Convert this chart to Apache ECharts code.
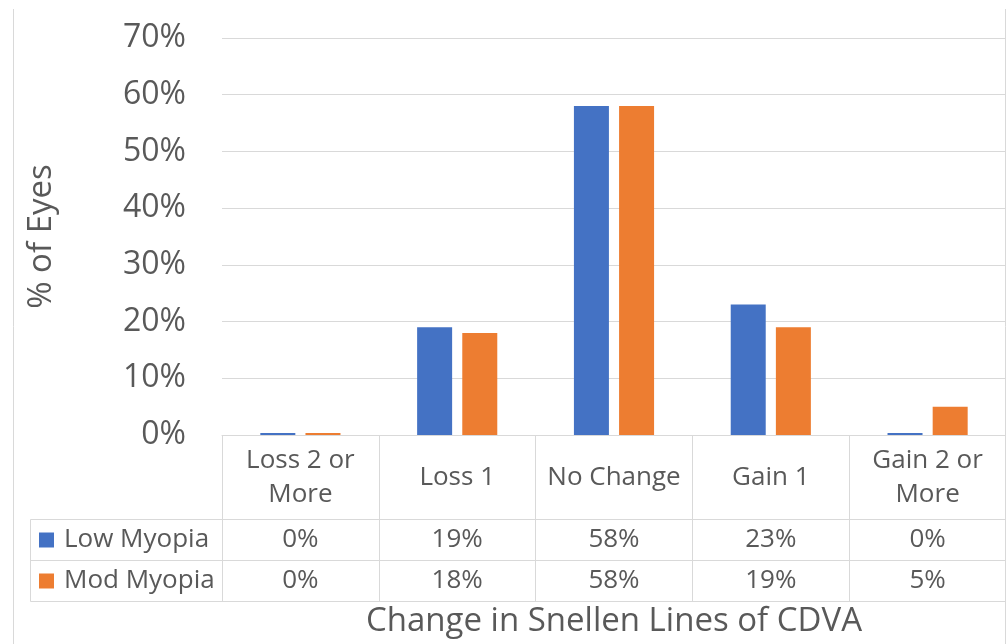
<!DOCTYPE html>
<html>
<head>
<meta charset="utf-8">
<script src="https://cdn.jsdelivr.net/npm/echarts@6/dist/echarts.min.js"></script>
<style>
  html, body { margin: 0; padding: 0; background: #fff; }
  #chart { width: 1006px; height: 644px; }
</style>
</head>
<body>
<div id="chart"></div>
<script>
// Change in Snellen lines of CDVA, share of eyes by myopia group
const categories = ['Loss 2 or\nMore', 'Loss 1', 'No Change', 'Gain 1', 'Gain 2 or\nMore'];
const seriesNames = ['Low Myopia', 'Mod Myopia'];
const lowMyopia = [0, 0.19, 0.58, 0.23, 0];
const modMyopia = [0, 0.18, 0.58, 0.19, 0.05];
const yTicks = { min: 0, max: 0.7, interval: 0.1 };

const FONT = '"Open Sans", "Noto Sans", sans-serif';
const TEXT = '#595959';
const LINE = '#d9d9d9';
const pct = v => Math.round(v * 100) + '%';

const chart = echarts.init(document.getElementById('chart'), null, { renderer: 'canvas' });

// value rows of the data table, one hidden category axis per series
function tableRowAxis(values, offset) {
  return {
    type: 'category',
    gridIndex: 0,
    position: 'bottom',
    offset: offset,
    data: values.map(pct),
    axisLine: { show: true, lineStyle: { color: LINE, width: 1 } },
    axisTick: { show: false },
    axisLabel: {
      show: true, interval: 0, margin: 21, verticalAlign: 'middle',
      fontFamily: FONT, fontSize: 26, color: TEXT
    },
    splitLine: { show: false }
  };
}

const option = {
  backgroundColor: '#fff',
  animation: false,
  color: ['#4472C4', '#ED7D31'],
  textStyle: { fontFamily: FONT },
  grid: { left: 222, right: 0, top: 38, bottom: 209, containLabel: false },
  legend: {
    orient: 'vertical',
    left: 39,
    top: 525,
    padding: 0,
    itemGap: 11,
    itemWidth: 15,
    itemHeight: 15,
    icon: 'rect',
    data: seriesNames,
    selectedMode: false,
    textStyle: { fontFamily: FONT, fontSize: 26, color: TEXT, lineHeight: 30, padding: [0, 0, 0, 5] }
  },
  xAxis: [
    {
      type: 'category',
      data: categories,
      name: 'Change in Snellen Lines of CDVA',
      nameLocation: 'middle',
      nameGap: 187,
      nameTextStyle: { fontFamily: FONT, fontSize: 33, color: TEXT, verticalAlign: 'middle' },
      axisLine: { show: true, lineStyle: { color: LINE, width: 1 } },
      axisTick: { show: true, length: 166, lineStyle: { color: LINE, width: 1 } },
      axisLabel: {
        interval: 0, margin: 43, verticalAlign: 'middle', align: 'center',
        fontFamily: FONT, fontSize: 26, lineHeight: 34, color: TEXT
      }
    },
    tableRowAxis(lowMyopia, 84),
    tableRowAxis(modMyopia, 125),
    {
      type: 'category',
      gridIndex: 0,
      position: 'bottom',
      offset: 166,
      data: categories,
      axisLine: { show: true, lineStyle: { color: LINE, width: 1 } },
      axisTick: { show: false },
      axisLabel: { show: false }
    }
  ],
  yAxis: {
    type: 'value',
    min: yTicks.min,
    max: yTicks.max,
    interval: yTicks.interval,
    name: '% of Eyes',
    nameLocation: 'middle',
    nameGap: 180,
    nameRotate: 90,
    nameTextStyle: { fontFamily: FONT, fontSize: 33, color: TEXT, verticalAlign: 'middle' },
    axisLine: { show: false },
    axisTick: { show: false },
    axisLabel: { margin: 36, fontFamily: FONT, fontSize: 32, color: TEXT, formatter: v => pct(v) },
    splitLine: { lineStyle: { color: LINE, width: 1 } }
  },
  series: [
    {
      name: seriesNames[0], type: 'bar', data: lowMyopia,
      barWidth: 35, barGap: '29%', barMinHeight: 2
    },
    {
      name: seriesNames[1], type: 'bar', data: modMyopia,
      barWidth: 35, barGap: '29%', barMinHeight: 2
    }
  ],
  graphic: [
    // chart frame sides
    { type: 'line', shape: { x1: 13.5, y1: 9, x2: 13.5, y2: 644 }, style: { stroke: LINE, lineWidth: 1 } },
    { type: 'line', shape: { x1: 1005.5, y1: 9, x2: 1005.5, y2: 644 }, style: { stroke: LINE, lineWidth: 1 } },
    // legend column of the data table
    { type: 'line', shape: { x1: 30.5, y1: 519.5, x2: 222, y2: 519.5 }, style: { stroke: LINE, lineWidth: 1 } },
    { type: 'line', shape: { x1: 30.5, y1: 560.5, x2: 222, y2: 560.5 }, style: { stroke: LINE, lineWidth: 1 } },
    { type: 'line', shape: { x1: 30.5, y1: 601.5, x2: 222, y2: 601.5 }, style: { stroke: LINE, lineWidth: 1 } },
    { type: 'line', shape: { x1: 30.5, y1: 519.5, x2: 30.5, y2: 601.5 }, style: { stroke: LINE, lineWidth: 1 } }
  ]
};

chart.setOption(option);
</script>
</body>
</html>
